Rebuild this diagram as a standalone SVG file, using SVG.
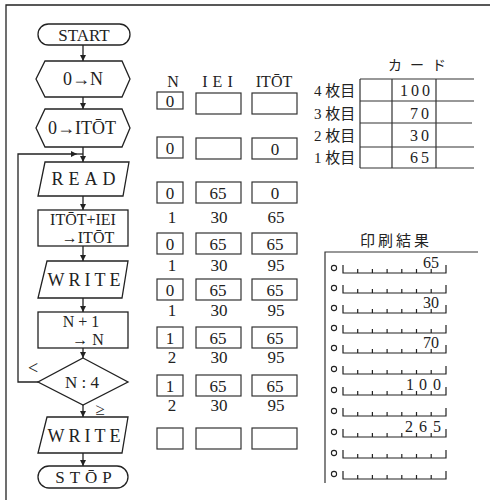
<svg xmlns="http://www.w3.org/2000/svg" xmlns:xlink="http://www.w3.org/1999/xlink" width="494" height="503" viewBox="0 0 494 503">
<style>
  .s{fill:none;stroke:#222;stroke-width:1.3}
  .t{font-family:"Liberation Serif","DejaVu Serif",serif;fill:#222;text-anchor:middle}
  .j{font-family:"Liberation Serif","Noto Sans CJK JP",serif;fill:#222}
  .c{stroke:#222;stroke-width:1.3;fill:none}
  .b{fill:none;stroke:#333;stroke-width:1.2}
</style>
<defs>
  <marker id="ah" viewBox="0 0 8 8" refX="8" refY="4" markerWidth="6" markerHeight="6" orient="auto" markerUnits="userSpaceOnUse">
    <path d="M0,0 L8,4 L0,8 Z" fill="#222"/>
  </marker>
  <g id="ruler">
    <path d="M343,-8 V0 H446 V-8 M357.7,0 v-4 M372.4,0 v-4 M387.1,0 v-4 M401.8,0 v-4 M416.5,0 v-4 M431.2,0 v-4" fill="none" stroke="#222" stroke-width="1.2"/>
    <circle cx="334" cy="-5" r="2.6" fill="none" stroke="#222" stroke-width="1.1"/>
  </g>
</defs>
<rect width="494" height="503" fill="#fff"/>
<path d="M6,500 V5 H490" class="s"/>

<!-- flowchart nodes -->
<g id="start"><rect x="38" y="24" width="92" height="21" rx="10.5" class="s"/><text x="84" y="41" class="t" font-size="17">START</text></g>
<g id="initN"><polygon points="45,61 122,61 130,79 122,97 45,97 36,79" class="s"/><text x="83" y="85" class="t" font-size="18">0→N</text></g>
<g id="initT"><polygon points="45,109 122,109 130,128 122,147 45,147 36,128" class="s"/><text x="82" y="134" class="t" font-size="18">0→ITŌT</text></g>
<g id="read"><polygon points="45,162 129,162 123,196 38,196" class="s"/><text x="86" y="185" class="t" font-size="18" letter-spacing="5">READ</text></g>
<g id="add"><rect x="38" y="210" width="90" height="36" class="s"/><text x="83" y="225" class="t" font-size="16">ITŌT+IEI</text><text x="88" y="243" class="t" font-size="16">→ITŌT</text></g>
<g id="write1"><polygon points="47,261 128,261 122,298 38,298" class="s"/><text x="86" y="286" class="t" font-size="18" letter-spacing="4">WRITE</text></g>
<g id="inc"><rect x="38" y="312" width="90" height="36" class="s"/><text x="81" y="327" class="t" font-size="16">N + 1</text><text x="88" y="345" class="t" font-size="16">→ N</text></g>
<g id="cmp"><polygon points="83,358 128,382 83,405 38,382" class="s"/><text x="82" y="388" class="t" font-size="17">N : 4</text></g>
<g id="write2"><polygon points="47,417 128,417 122,453 38,453" class="s"/><text x="86" y="442" class="t" font-size="18" letter-spacing="4">WRITE</text></g>
<g id="stop"><rect x="38" y="466" width="90" height="22" rx="11" class="s"/><text x="86" y="483" class="t" font-size="17" letter-spacing="5">STŌP</text></g>

<!-- connectors -->
<g id="connectors">
  <path d="M83,45 V61" class="c" marker-end="url(#ah)"/>
  <path d="M83,97 V109" class="c" marker-end="url(#ah)"/>
  <path d="M83,147 V162" class="c" marker-end="url(#ah)"/>
  <path d="M83,196 V210" class="c" marker-end="url(#ah)"/>
  <path d="M83,246 V261" class="c" marker-end="url(#ah)"/>
  <path d="M83,298 V312" class="c" marker-end="url(#ah)"/>
  <path d="M83,348 V358" class="c" marker-end="url(#ah)"/>
  <path d="M83,405 V417" class="c" marker-end="url(#ah)"/>
  <path d="M83,453 V466" class="c" marker-end="url(#ah)"/>
  <path d="M38,382 H18 V154 H77" class="c" marker-end="url(#ah)"/>
  <path d="M77,154 H83" class="c"/>
  <text x="33" y="374" class="t" font-size="18">&lt;</text>
  <text x="100" y="415" class="t" font-size="17">≥</text>
</g>

<!-- variable table -->
<g id="vars">
  <text x="173" y="87" class="t" font-size="16">N</text>
  <text x="220" y="87" class="t" font-size="16" letter-spacing="5">IEI</text>
  <text x="274" y="87" class="t" font-size="16">ITŌT</text>

  <rect x="157" y="92" width="26" height="17" class="b"/><rect x="196" y="93" width="45" height="21" class="b"/><rect x="252" y="93" width="45" height="21" class="b"/>
  <text x="170" y="107" class="t" font-size="17">0</text>

  <rect x="157" y="137" width="26" height="21" class="b"/><rect x="196" y="138" width="45" height="21" class="b"/><rect x="252" y="138" width="45" height="21" class="b"/>
  <text x="170" y="154" class="t" font-size="17">0</text><text x="275" y="155" class="t" font-size="17">0</text>

  <rect x="157" y="182" width="26" height="21" class="b"/><rect x="196" y="182" width="45" height="21" class="b"/><rect x="252" y="182" width="45" height="21" class="b"/>
  <text x="170" y="199" class="t" font-size="17">0</text><text x="218" y="199" class="t" font-size="17">65</text><text x="275" y="199" class="t" font-size="17">0</text>
  <text x="172" y="223" class="t" font-size="17">1</text><text x="219" y="223" class="t" font-size="17">30</text><text x="276" y="223" class="t" font-size="17">65</text>

  <rect x="157" y="233" width="26" height="21" class="b"/><rect x="196" y="233" width="45" height="21" class="b"/><rect x="252" y="233" width="45" height="21" class="b"/>
  <text x="170" y="250" class="t" font-size="17">0</text><text x="218" y="250" class="t" font-size="17">65</text><text x="275" y="250" class="t" font-size="17">65</text>
  <text x="172" y="271" class="t" font-size="17">1</text><text x="219" y="271" class="t" font-size="17">30</text><text x="276" y="271" class="t" font-size="17">95</text>

  <rect x="157" y="279" width="26" height="21" class="b"/><rect x="196" y="279" width="45" height="21" class="b"/><rect x="252" y="279" width="45" height="21" class="b"/>
  <text x="170" y="296" class="t" font-size="17">0</text><text x="218" y="296" class="t" font-size="17">65</text><text x="275" y="296" class="t" font-size="17">65</text>
  <text x="172" y="316" class="t" font-size="17">1</text><text x="219" y="316" class="t" font-size="17">30</text><text x="276" y="316" class="t" font-size="17">95</text>

  <rect x="157" y="327" width="26" height="21" class="b"/><rect x="196" y="327" width="45" height="21" class="b"/><rect x="252" y="327" width="45" height="21" class="b"/>
  <text x="170" y="344" class="t" font-size="17">1</text><text x="218" y="344" class="t" font-size="17">65</text><text x="275" y="344" class="t" font-size="17">65</text>
  <text x="172" y="363" class="t" font-size="17">2</text><text x="219" y="363" class="t" font-size="17">30</text><text x="276" y="363" class="t" font-size="17">95</text>

  <rect x="157" y="375" width="26" height="21" class="b"/><rect x="196" y="375" width="45" height="21" class="b"/><rect x="252" y="375" width="45" height="21" class="b"/>
  <text x="170" y="392" class="t" font-size="17">1</text><text x="218" y="392" class="t" font-size="17">65</text><text x="275" y="392" class="t" font-size="17">65</text>
  <text x="172" y="411" class="t" font-size="17">2</text><text x="219" y="411" class="t" font-size="17">30</text><text x="276" y="411" class="t" font-size="17">95</text>

  <rect x="157" y="428" width="26" height="21" class="b"/><rect x="196" y="428" width="45" height="21" class="b"/><rect x="252" y="428" width="45" height="21" class="b"/>
</g>

<!-- card table -->
<g id="cards">
  <text x="388" y="70" class="j" font-size="14" letter-spacing="8">カード</text>
  <path d="M360,79 H474 M360,101 H474 M360,123 H472 M360,147 H474 M360,168 H474 M360,79 V168 M392,79 V168 M436,79 V168" class="b"/>
  <text x="314" y="96" class="j" font-size="15">4 枚目</text>
  <text x="314" y="119" class="j" font-size="15">3 枚目</text>
  <text x="314" y="141" class="j" font-size="15">2 枚目</text>
  <text x="314" y="163" class="j" font-size="15">1 枚目</text>
  <text x="400" y="96" class="j" font-size="16" letter-spacing="3">100</text>
  <text x="410" y="119" class="j" font-size="16" letter-spacing="3">70</text>
  <text x="410" y="141" class="j" font-size="16" letter-spacing="3">30</text>
  <text x="410" y="163" class="j" font-size="16" letter-spacing="3">65</text>
</g>

<!-- print result -->
<g id="print">
  <text x="360" y="246" class="j" font-size="15" letter-spacing="3">印刷結果</text>
  <path d="M325,483 V252 H478" class="b"/>
  <use xlink:href="#ruler" y="273"/>
  <use xlink:href="#ruler" y="293"/>
  <use xlink:href="#ruler" y="313"/>
  <use xlink:href="#ruler" y="333"/>
  <use xlink:href="#ruler" y="353"/>
  <use xlink:href="#ruler" y="374"/>
  <use xlink:href="#ruler" y="395"/>
  <use xlink:href="#ruler" y="416"/>
  <use xlink:href="#ruler" y="437"/>
  <use xlink:href="#ruler" y="458"/>
  <use xlink:href="#ruler" y="479"/>
  <text x="439" y="268" class="t" font-size="16" style="text-anchor:end">65</text>
  <text x="439" y="308" class="t" font-size="16" style="text-anchor:end">30</text>
  <text x="439" y="348" class="t" font-size="16" style="text-anchor:end">70</text>
  <text x="410 423 437" y="390" class="t" font-size="16">100</text>
  <text x="409 423 437" y="432" class="t" font-size="16">265</text>
</g>
</svg>
